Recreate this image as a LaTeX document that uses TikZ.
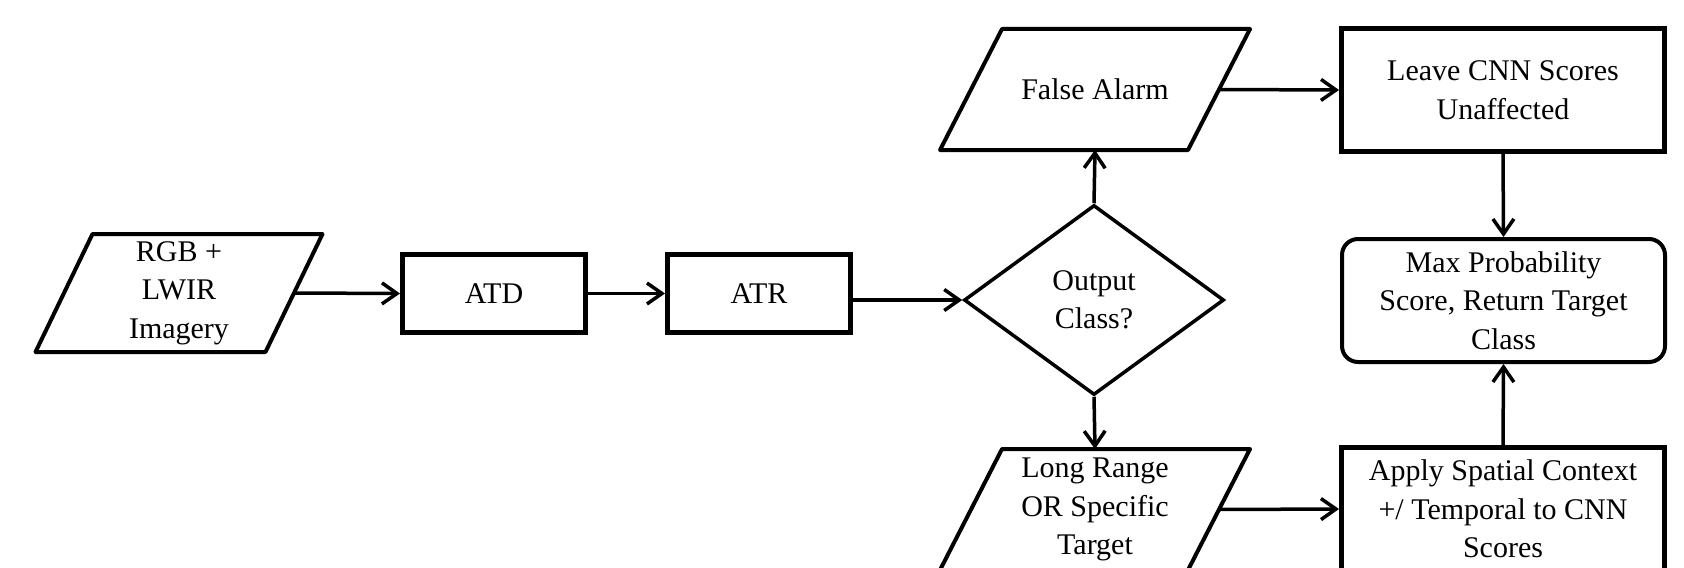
\documentclass[tikz,border=0pt]{standalone}
\usepackage{fontspec}
\setmainfont{Liberation Serif}
\usetikzlibrary{shapes.geometric,arrows.meta}
\newcommand{\parashape}[2]{%
  \draw[paraline] ([xshift=#2]#1.north west) -- ([xshift=#2]#1.north east)
    -- ([xshift=-#2]#1.south east) -- ([xshift=-#2]#1.south west) -- cycle;}
\begin{document}
\begin{tikzpicture}[x=0.5pt, y=-0.5pt,
  every node/.style={font=\fontsize{15pt}{19.25pt}\selectfont, align=center, inner sep=0pt},
  box/.style={draw, line width=2.5pt, minimum width=91.5pt, minimum height=39pt},
  bigbox/.style={draw, line width=2.5pt, minimum width=161.5pt, minimum height=61.5pt},
  roundbox/.style={draw, line width=2pt, rounded corners=8pt, minimum width=161.5pt, minimum height=61.5pt},
  decision/.style={draw, diamond, line width=1.75pt, minimum width=130pt, minimum height=95pt},
  parabody/.style 2 args={minimum width=#1, minimum height=#2, outer sep=0pt},
  paraline/.style={line width=2pt, line join=round},
  conn/.style={line width=1.75pt, -{Straight Barb[length=7.5pt,width=10.5pt]}}
]
\useasboundingbox (0,0) rectangle (1684,567);
\clip (0,0) rectangle (1684,567);

\node[parabody={115pt}{59pt}] (rgb) at (179,293) {RGB +\\LWIR\\Imagery};
\node[box] (atd) at (494,293.5) {ATD};
\node[box] (atr) at (759,293.5) {ATR};
\node[decision] (dec) at (1094,300) {Output\\Class?};
\node[parabody={124pt}{60.5pt}] (fa) at (1095,89.5) {False Alarm};
\node[parabody={124pt}{60.5pt}] (lr) at (1095,509.5) {Long Range\\OR Specific\\Target};
\node[bigbox] (leave) at (1503,90) {Leave CNN Scores\\Unaffected};
\node[bigbox] (apply) at (1503,509) {Apply Spatial Context\\+/ Temporal to CNN\\Scores};
\node[roundbox] (maxp) at (1503.5,300.5) {Max Probability\\Score, Return Target\\Class};

\parashape{rgb}{14.25pt}
\parashape{fa}{15.5pt}
\parashape{lr}{15.5pt}

\draw[conn] (rgb.east) -- (atd.west);
\draw[conn] (atd.east) -- (atr.west);
\draw[conn] (dec.west -| atr.east) -- (dec.west);
\draw[conn] (dec.north) -- (fa.south);
\draw[conn] (dec.south) -- (lr.north);
\draw[conn] (fa.east) -- (leave.west);
\draw[conn] (lr.east) -- (apply.west);
\draw[conn] (leave.south) -- (maxp.north);
\draw[conn] (apply.north) -- (maxp.south);
\end{tikzpicture}
\end{document}
